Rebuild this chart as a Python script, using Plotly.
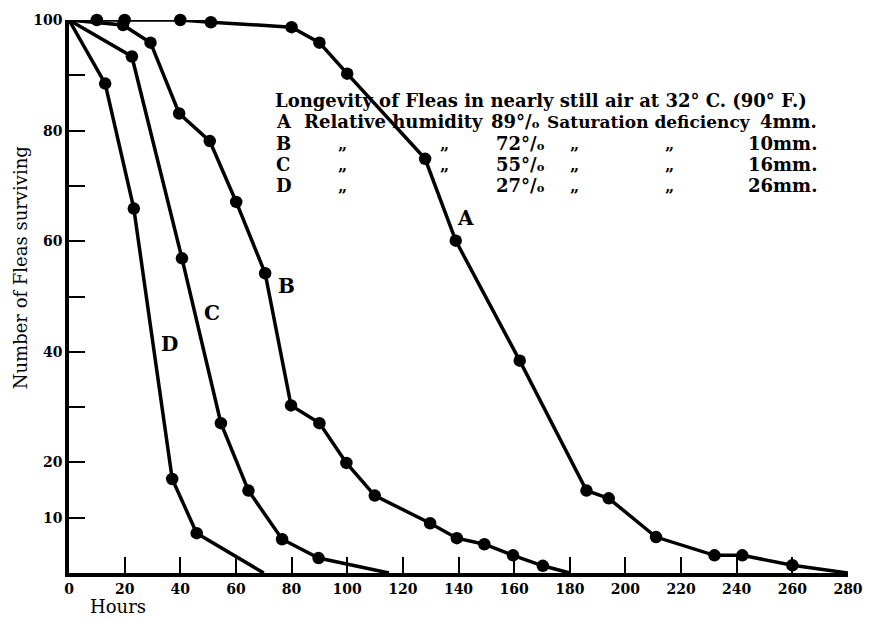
import plotly.graph_objects as go

# ---- data (hours, number of fleas surviving) ----
hours_a = [0, 10, 20, 40, 51, 80, 90, 100, 128, 139, 162, 186, 194, 211, 232, 242, 260, 280]
surv_a = [100, 100, 100, 100, 99.6, 98.7, 95.9, 90.3, 74.9, 60.1, 38.4, 14.9, 13.5, 6.5, 3.2, 3.2, 1.4, 0]

hours_b = [0, 19.4, 29.3, 39.6, 50.6, 60.1, 70.5, 79.8, 90, 99.7, 109.9, 129.8, 139.4, 149.3, 159.6, 170.3, 180]
surv_b = [100, 99.1, 95.9, 83.1, 78.1, 67.1, 54.2, 30.3, 27.1, 19.9, 14.0, 9.0, 6.3, 5.2, 3.2, 1.3, 0]

hours_c = [0, 22.6, 40.6, 54.6, 64.5, 76.6, 89.7, 115]
surv_c = [100, 93.4, 56.9, 27.1, 14.9, 6.1, 2.7, 0]

hours_d = [0, 13, 23.3, 37.1, 45.9, 70]
surv_d = [100, 88.5, 65.9, 17.0, 7.2, 0]

x_ticks = list(range(0, 281, 20))
y_ticks = [10, 20, 30, 40, 50, 60, 70, 80, 90, 100]
y_tick_text = ["10", "20", "", "40", "", "60", "", "80", "", "100"]

series = [("A", hours_a, surv_a), ("B", hours_b, surv_b), ("C", hours_c, surv_c), ("D", hours_d, surv_d)]

W, H = 875, 620
ML, MR, MT, MB = 68.5, 18.3, 16, 47
X0, X1 = 0, 280
Y0, Y1 = 0, 100
pw = W - ML - MR
ph = H - MT - MB


def paper(xp, yp):
    """pixel position -> paper coordinates (for text placement)"""
    return ((xp - ML) / pw, (H - MB - yp) / ph)


fig = go.Figure()
for name, xs, ys in series:
    sizes = [0] + [12.5] * (len(xs) - 2) + [0]
    fig.add_trace(go.Scatter(
        x=xs, y=ys, mode="lines+markers", name=name,
        line=dict(color="black", width=3.5),
        marker=dict(color="black", size=sizes, opacity=1, line=dict(width=0)),
        cliponaxis=False, showlegend=False,
    ))

SERIF = "DejaVu Serif"
anns = []


def txt(s, xp, yp, size=18, anchor="left", bold=True, angle=0):
    x, y = paper(xp, yp)
    anns.append(dict(
        x=x, y=y, xref="paper", yref="paper", text=s, textangle=angle,
        showarrow=False, xanchor=anchor, yanchor="middle", borderpad=0,
        font=dict(family=SERIF, size=size, color="black", weight="bold" if bold else "normal"),
    ))


# curve labels
txt("A", 470, 215, 20, "center")
txt("B", 289, 284, 20, "center")
txt("C", 213, 311, 20, "center")
txt("D", 170, 342, 20, "center")

# description block
rows_y = [97, 118.5, 140, 161.5, 183]
txt("Longevity of Fleas in nearly still air at 32° C. (90° F.)", 276, rows_y[0])
txt("A", 277, rows_y[1])
txt("Relative humidity", 305, rows_y[1])
txt("89°/ₒ", 494, rows_y[1])
txt("Saturation deficiency", 551, rows_y[1], size=17)
txt("4mm.", 826, rows_y[1], anchor="right")
pct = ["72°/ₒ", "55°/ₒ", "27°/ₒ"]
mm = ["10mm.", "16mm.", "26mm."]
for i, letter in enumerate(["B", "C", "D"]):
    yy = rows_y[i + 2]
    txt(letter, 277, yy)
    txt("„", 345, yy + 1, 16, anchor="center")
    if letter != "D":
        txt("„", 448, yy + 1, 16, anchor="center")
    txt(pct[i], 500, yy)
    txt("„", 580, yy + 1, 16, anchor="center")
    txt("„", 676, yy + 1, 16, anchor="center")
    txt(mm[i], 826, yy, anchor="right")

# axis titles
txt("Hours", 118, 607, 18, "center", bold=False)
txt("Number of Fleas surviving", 19, 266, 18, "center", bold=False, angle=-90)

tickfont = dict(family=SERIF, size=14, color="black", weight="bold")
fig.update_layout(
    width=W, height=H,
    margin=dict(l=ML, r=MR, t=MT, b=MB, pad=0),
    paper_bgcolor="white", plot_bgcolor="white",
    annotations=anns,
    xaxis=dict(range=[X0, X1], tickvals=x_ticks, ticktext=[str(v) for v in x_ticks],
               ticks="inside", ticklen=16, tickwidth=2, tickcolor="black",
               showline=True, linewidth=3.5, linecolor="black", showgrid=False, zeroline=False,
               tickfont=tickfont, mirror=False, ticklabeloverflow="allow"),
    yaxis=dict(range=[Y0, Y1], tickvals=y_ticks, ticktext=y_tick_text,
               ticks="inside", ticklen=16, tickwidth=2, tickcolor="black",
               showline=True, linewidth=3.5, linecolor="black", showgrid=False, zeroline=False,
               tickfont=tickfont, mirror=False, ticklabeloverflow="allow"),
)
fig.write_html("out.html", config={"displayModeBar": False},
               post_script="document.body.style.margin='0px';")
